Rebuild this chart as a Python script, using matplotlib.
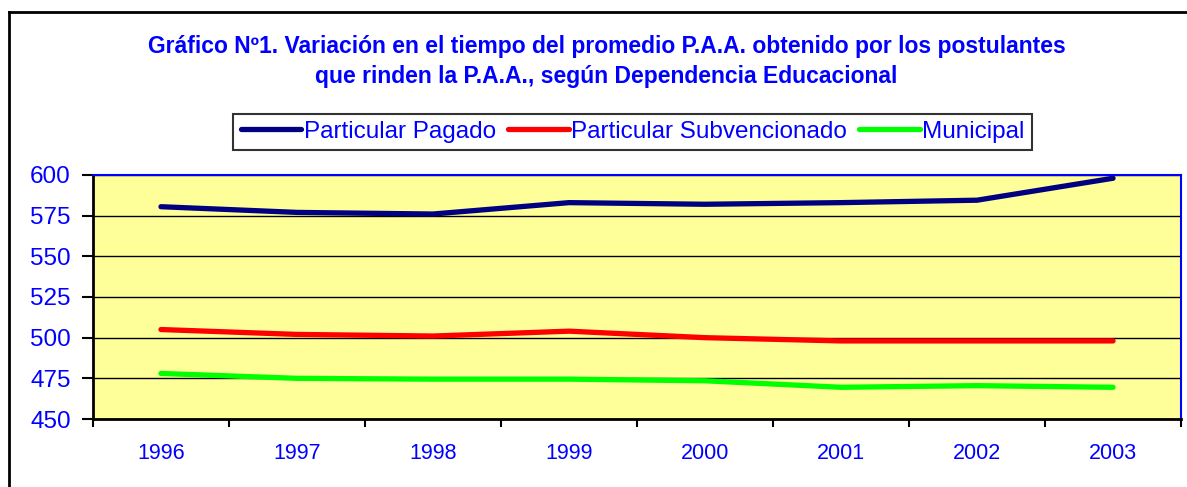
import matplotlib.pyplot as plt
from matplotlib.lines import Line2D

# Promedio P.A.A. por dependencia educacional
years = ['1996', '1997', '1998', '1999', '2000', '2001', '2002', '2003']
pagado = [580.5, 577, 576, 583, 582, 583, 584.5, 598]
subvencionado = [505, 502, 501, 504, 500, 498, 498, 498]
municipal = [478, 475, 474.5, 474.5, 473.5, 469.5, 470.5, 469.5]
series_names = ['Particular Pagado', 'Particular Subvencionado', 'Municipal']
y_ticks = [450, 475, 500, 525, 550, 575, 600]

title = ("Gráfico Nº1. Variación en el tiempo del promedio P.A.A. obtenido por los postulantes\n"
         "que rinden la P.A.A., según Dependencia Educacional")

plt.rcParams['font.family'] = ['Liberation Sans', 'DejaVu Sans']
blue = '#0000FF'

fig = plt.figure(figsize=(11.87, 4.87), dpi=100)
ax = fig.add_axes([0.0783, 0.1396, 0.9167, 0.5011])
ax.set_facecolor('#FFFF99')

x = range(len(years))
colors = ['#000080', '#FF0000', '#00FF00']
for vals, name, c in zip([pagado, subvencionado, municipal], series_names, colors):
    ax.plot(x, vals, color=c, lw=3.8, solid_capstyle='round', label=name, zorder=3)

ax.set_xlim(-0.5, len(years) - 0.5)
ax.set_ylim(450, 600)
ax.set_yticks(y_ticks)
ax.set_yticklabels([str(v) for v in y_ticks], fontsize=17.5, color=blue)
ax.set_xticks(list(x))
ax.set_xticklabels(years, fontsize=15.5, color=blue)
ax.tick_params(axis='x', length=0, pad=17)
ax.set_xticks([i - 0.5 for i in range(len(years) + 1)], minor=True)
ax.tick_params(axis='x', which='minor', length=6, width=1.5, color='black', direction='out')
ax.tick_params(axis='y', length=8, width=1.5, color='black', direction='out', pad=8)
ax.yaxis.grid(True, color='black', lw=1)
ax.set_axisbelow(True)

for side in ['left', 'bottom']:
    ax.spines[side].set_color('black')
    ax.spines[side].set_linewidth(2)
for side in ['top', 'right']:
    ax.spines[side].set_color(blue)
    ax.spines[side].set_linewidth(1.5)

fig.text(0.511, 0.873, title, ha='center', va='center', fontsize=16.5,
         fontweight='bold', color=blue, linespacing=1.4)

leg = fig.legend(loc='center', bbox_to_anchor=(0.533, 0.729), ncol=3, fontsize=17.5,
                 frameon=True, fancybox=False, handlelength=2.5, handletextpad=0.1,
                 columnspacing=0.5, borderpad=0.3, labelcolor=blue)
leg.get_frame().set_edgecolor('black')
leg.get_frame().set_linewidth(1.5)

# outer chart frame
fig.add_artist(Line2D([9 / 1187, 9 / 1187], [0, 1 - 12 / 487], color='black', lw=2,
                      transform=fig.transFigure))
fig.add_artist(Line2D([9 / 1187, 1], [1 - 12 / 487, 1 - 12 / 487], color='black', lw=2,
                      transform=fig.transFigure))

fig.savefig('out.png', dpi=100)
